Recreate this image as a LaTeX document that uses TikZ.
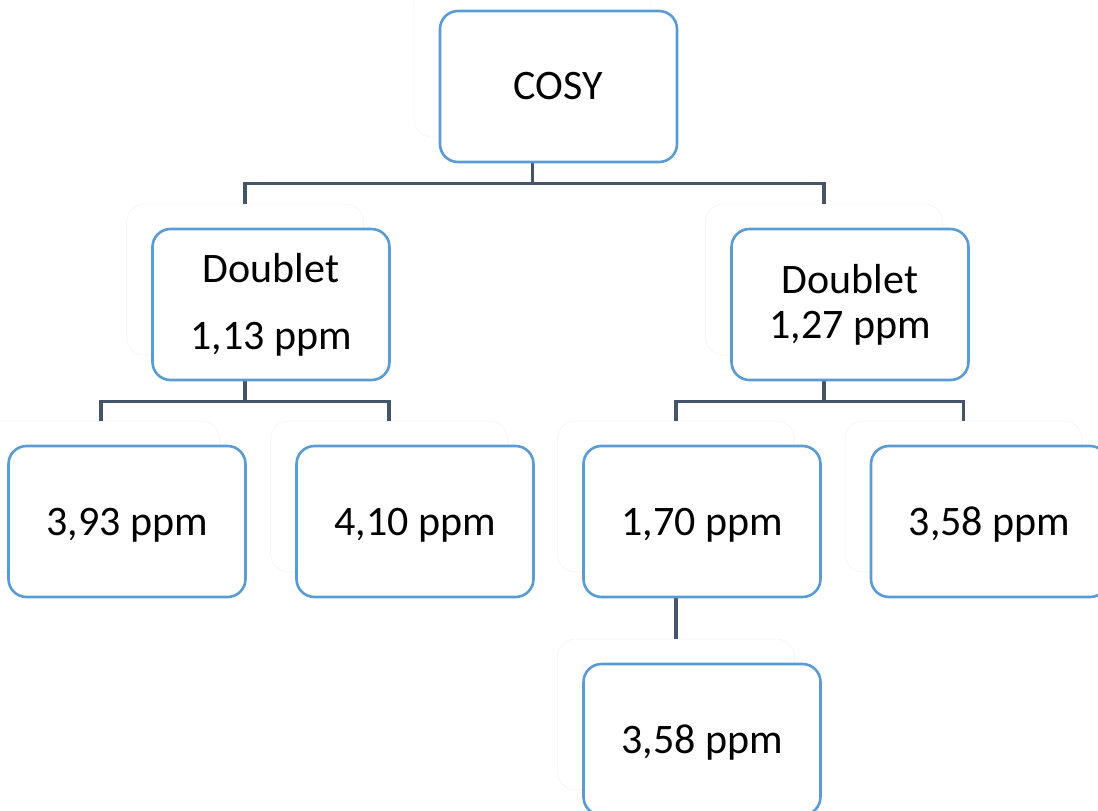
\documentclass[tikz,border=0pt]{standalone}
\usepackage{fontspec}
\setmainfont{Carlito}
\definecolor{boxblue}{HTML}{5B9BD5}
\definecolor{linkslate}{HTML}{44546A}
\begin{document}
\begin{tikzpicture}[x=1pt,y=-1pt,
  card/.style={draw=boxblue, line width=2.6pt, fill=white, rounded corners=18pt,
    minimum width=237pt, minimum height=151pt, inner sep=0pt, align=center,
    font={\fontsize{42}{45}\selectfont}},
  oneline/.style={card, text height=35pt, text depth=8pt},
  shade/.style={draw=black!3, line width=1pt, rounded corners=18pt,
    minimum width=237pt, minimum height=151pt, inner sep=0pt},
  link/.style={draw=linkslate, line width=3.2pt}]
\useasboundingbox (0,0) rectangle (1098,811);
\clip (0,0) rectangle (1098,811);

% faint backing outlines, offset up and to the left of each card
\node[shade] (gcosy) at (532.5,61.5) {};
\node[shade] (gdl)   at (245,279.5) {};
\node[shade] (gdr)   at (824,279.5) {};
\node[shade] (ga)    at (101,496.5) {};
\node[shade] (gb)    at (389,496.5) {};
\node[shade] (gc)    at (676,496.5) {};
\node[shade] (gd)    at (963.5,496.5) {};
\node[shade] (ge)    at (676,714.5) {};

% tree connectors
\draw[link] (gcosy.south) -- ++(0,46) -| (gdl.north);
\draw[link] (gcosy.south) -- ++(0,46) -| (gdr.north);
\draw[link] (gdl.south) -- ++(0,46) -| (ga.north);
\draw[link] (gdl.south) -- ++(0,46) -| (gb.north);
\draw[link] (gdr.south) -- ++(0,46) -| (gc.north);
\draw[link] (gdr.south) -- ++(0,46) -| (gd.north);
\draw[link] (gc.south) -- (ge.north);

% cards
\node[card] (cosy) at (558.5,86.5) {COSY};
\node[card] (dl)   at (271,304.5) {Doublet\\[22pt]1,13 ppm};
\node[card] (dr)   at (850,304.5) {Doublet\\1,27 ppm};
\node[oneline] (a) at (127,521.5) {3,93 ppm};
\node[oneline] (b) at (415,521.5) {4,10 ppm};
\node[oneline] (c) at (702,521.5) {1,70 ppm};
\node[oneline] (d) at (989.5,521.5) {3,58 ppm};
\node[oneline] (e) at (702,739.5) {3,58 ppm};
\end{tikzpicture}
\end{document}
